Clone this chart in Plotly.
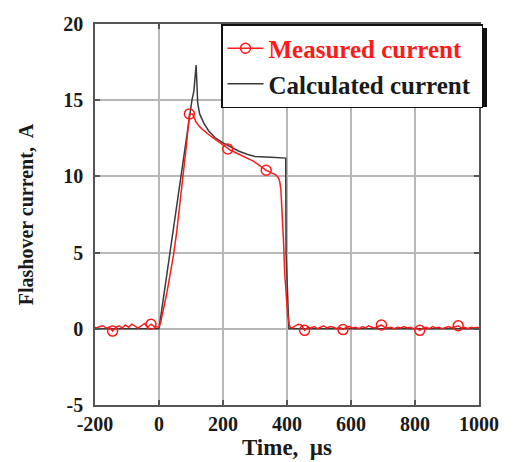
import numpy as np
import plotly.graph_objects as go

# ---------------- data ----------------
pre_t = [-200] + list(range(-195, 0, 10)) + [0]
pre_i = [0.1, 0.05, 0.15, 0.2, 0.05, 0.1, -0.15, 0.1, 0.2, 0.05, 0.25,
         0.1, 0.3, 0.15, 0.05, 0.2, 0.35, 0.1, 0.3, 0.15, 0.1, 0.1]

pulse_t = list(range(5, 370, 10))
pulse_i = [0.4, 1.3, 2.4, 3.6, 4.8, 6.3, 8.1, 10.0, 11.9, 14.1,
           14.1, 13.6, 13.3, 13.1, 12.9, 12.75, 12.6, 12.45, 12.3, 12.1,
           11.95, 11.8, 11.7, 11.6, 11.5, 11.45, 11.35, 11.2, 11.1, 11.0,
           10.85, 10.7, 10.5, 10.4, 10.3, 10.2, 10.1]

drop_t = [372, 377, 381, 385, 389, 393, 397, 402, 407, 410]
drop_i = [9.95, 9.7, 9.1, 7.8, 5.8, 3.6, 2.0, 0.9, 0.3, 0.1]

post_t = list(range(415, 1000, 10)) + [1000]
post_i = [0.05, 0.2, 0.3, 0.25, -0.1, 0.1, 0.05, 0.15, 0.0, 0.1,
          0.2, 0.05, 0.15, 0.1, 0.0, 0.1, -0.05, 0.1, 0.15, 0.05,
          0.1, 0.0, 0.15, 0.05, 0.2, 0.1, 0.05, 0.15, 0.25, 0.1,
          0.05, 0.1, 0.0, 0.1, 0.05, 0.15, 0.05, 0.1, 0.0, 0.05,
          -0.1, 0.05, 0.1, 0.0, 0.15, 0.05, 0.1, 0.0, 0.1, 0.15,
          0.05, 0.1, 0.2, 0.05, 0.1, 0.0, 0.1, 0.05, 0.1, 0.05]

marker_t = [-145, -25, 95, 215, 335, 455, 575, 695, 815, 935]

calc_t = [-200, 0, 103, 109, 116, 121, 127, 140, 155, 175, 200, 225, 250,
          275, 300, 350, 396, 397, 406, 1000]
calc_i = [0, 0, 15.0, 15.6, 17.3, 14.8, 14.1, 13.5, 13.0, 12.55, 12.2, 11.9,
          11.65, 11.45, 11.3, 11.25, 11.2, 5.0, 0, 0]

x_ticks = [-200, 0, 200, 400, 600, 800, 1000]
y_ticks = [-5, 0, 5, 10, 15, 20]

meas_t = np.array(pre_t + pulse_t + drop_t + post_t, dtype=float)
meas_i = np.array(pre_i + pulse_i + drop_i + post_i, dtype=float)
assert len(meas_t) == len(meas_i)
mask = np.isin(meas_t, marker_t)

RED = "#ff1a1a"
DARK = "#3a3a3a"
SERIF = "Liberation Serif"
TICKFONT = dict(family=SERIF, size=20, color="#1a1a1a", weight="bold")
LEGFONT = dict(family=SERIF, size=25, color="#1a1a1a", weight="bold")
XTFONT = dict(family=SERIF, size=23, color="#1a1a1a", weight="bold")
YTFONT = dict(family=SERIF, size=20, color="#1a1a1a", weight="bold")

fig = go.Figure()
# legend-only entries
fig.add_trace(go.Scatter(x=[None], y=[None], mode="lines+markers",
                         name="<span style='color:#ff1a1a'>Measured current</span>&nbsp;",
                         line=dict(color=RED, width=1.5),
                         marker=dict(symbol="circle-open", size=10, color=RED, line=dict(width=1.5))))
fig.add_trace(go.Scatter(x=[None], y=[None], mode="lines", name="Calculated current&nbsp;",
                         line=dict(color=DARK, width=1.5)))
# data
fig.add_trace(go.Scatter(x=calc_t, y=calc_i, mode="lines", showlegend=False,
                         line=dict(color=DARK, width=1.5)))
fig.add_trace(go.Scatter(x=meas_t, y=meas_i, mode="lines", showlegend=False,
                         line=dict(color=RED, width=1.5)))
fig.add_trace(go.Scatter(x=meas_t[mask], y=meas_i[mask], mode="markers", showlegend=False,
                         marker=dict(symbol="circle-open", size=10, color=RED, line=dict(width=1.5))))

# page is offset by the default 8px body margin
OFF = 8
W, H = 524 - OFF, 462 - OFF
L, R, T, B = 95 - OFF, 45, 24 - OFF, 57
pl, pr, pt, pb = 95, 479, 24, 405  # plot area in page pixels

def px2paper(x, y):
    return (x - pl) / (pr - pl), (pb - y) / (pb - pt)

sx0, sy0 = px2paper(226, 107)
sx1, sy1 = px2paper(487, 28)
fig.add_shape(type="rect", xref="paper", yref="paper", x0=sx0, y0=sy0, x1=sx1, y1=sy1,
              fillcolor="#111111", line=dict(width=0), layer="above")

axis_common = dict(showgrid=True, gridcolor="#b8b8b8", gridwidth=1.5,
                   showline=True, linecolor="#555555", linewidth=1.5, mirror="ticks",
                   ticks="inside", ticklen=5, tickcolor="#555555", tickwidth=1.5,
                   zeroline=False, tickfont=TICKFONT, automargin=False)

lx, ly = px2paper(483, 24)
fig.update_layout(
    width=W, height=H,
    margin=dict(l=L, r=R, t=T, b=B, autoexpand=False),
    paper_bgcolor="white", plot_bgcolor="white",
    showlegend=True,
    legend=dict(x=lx, xanchor="right", y=ly, yanchor="top",
                bgcolor="white", bordercolor="#111111", borderwidth=1.5,
                font=LEGFONT, tracegroupgap=0, itemwidth=36),
    xaxis=dict(range=[-200, 1000], tickvals=x_ticks, ticktext=[str(v) for v in x_ticks],
               title=dict(text="Time,  µs", font=XTFONT, standoff=0), **axis_common),
    yaxis=dict(range=[-5, 20], tickvals=y_ticks, ticktext=[str(v) for v in y_ticks],
               ticklabelstandoff=6,
               title=dict(text="Flashover current,  A", font=YTFONT, standoff=24), **axis_common),
)

fig.write_html("out.html")
